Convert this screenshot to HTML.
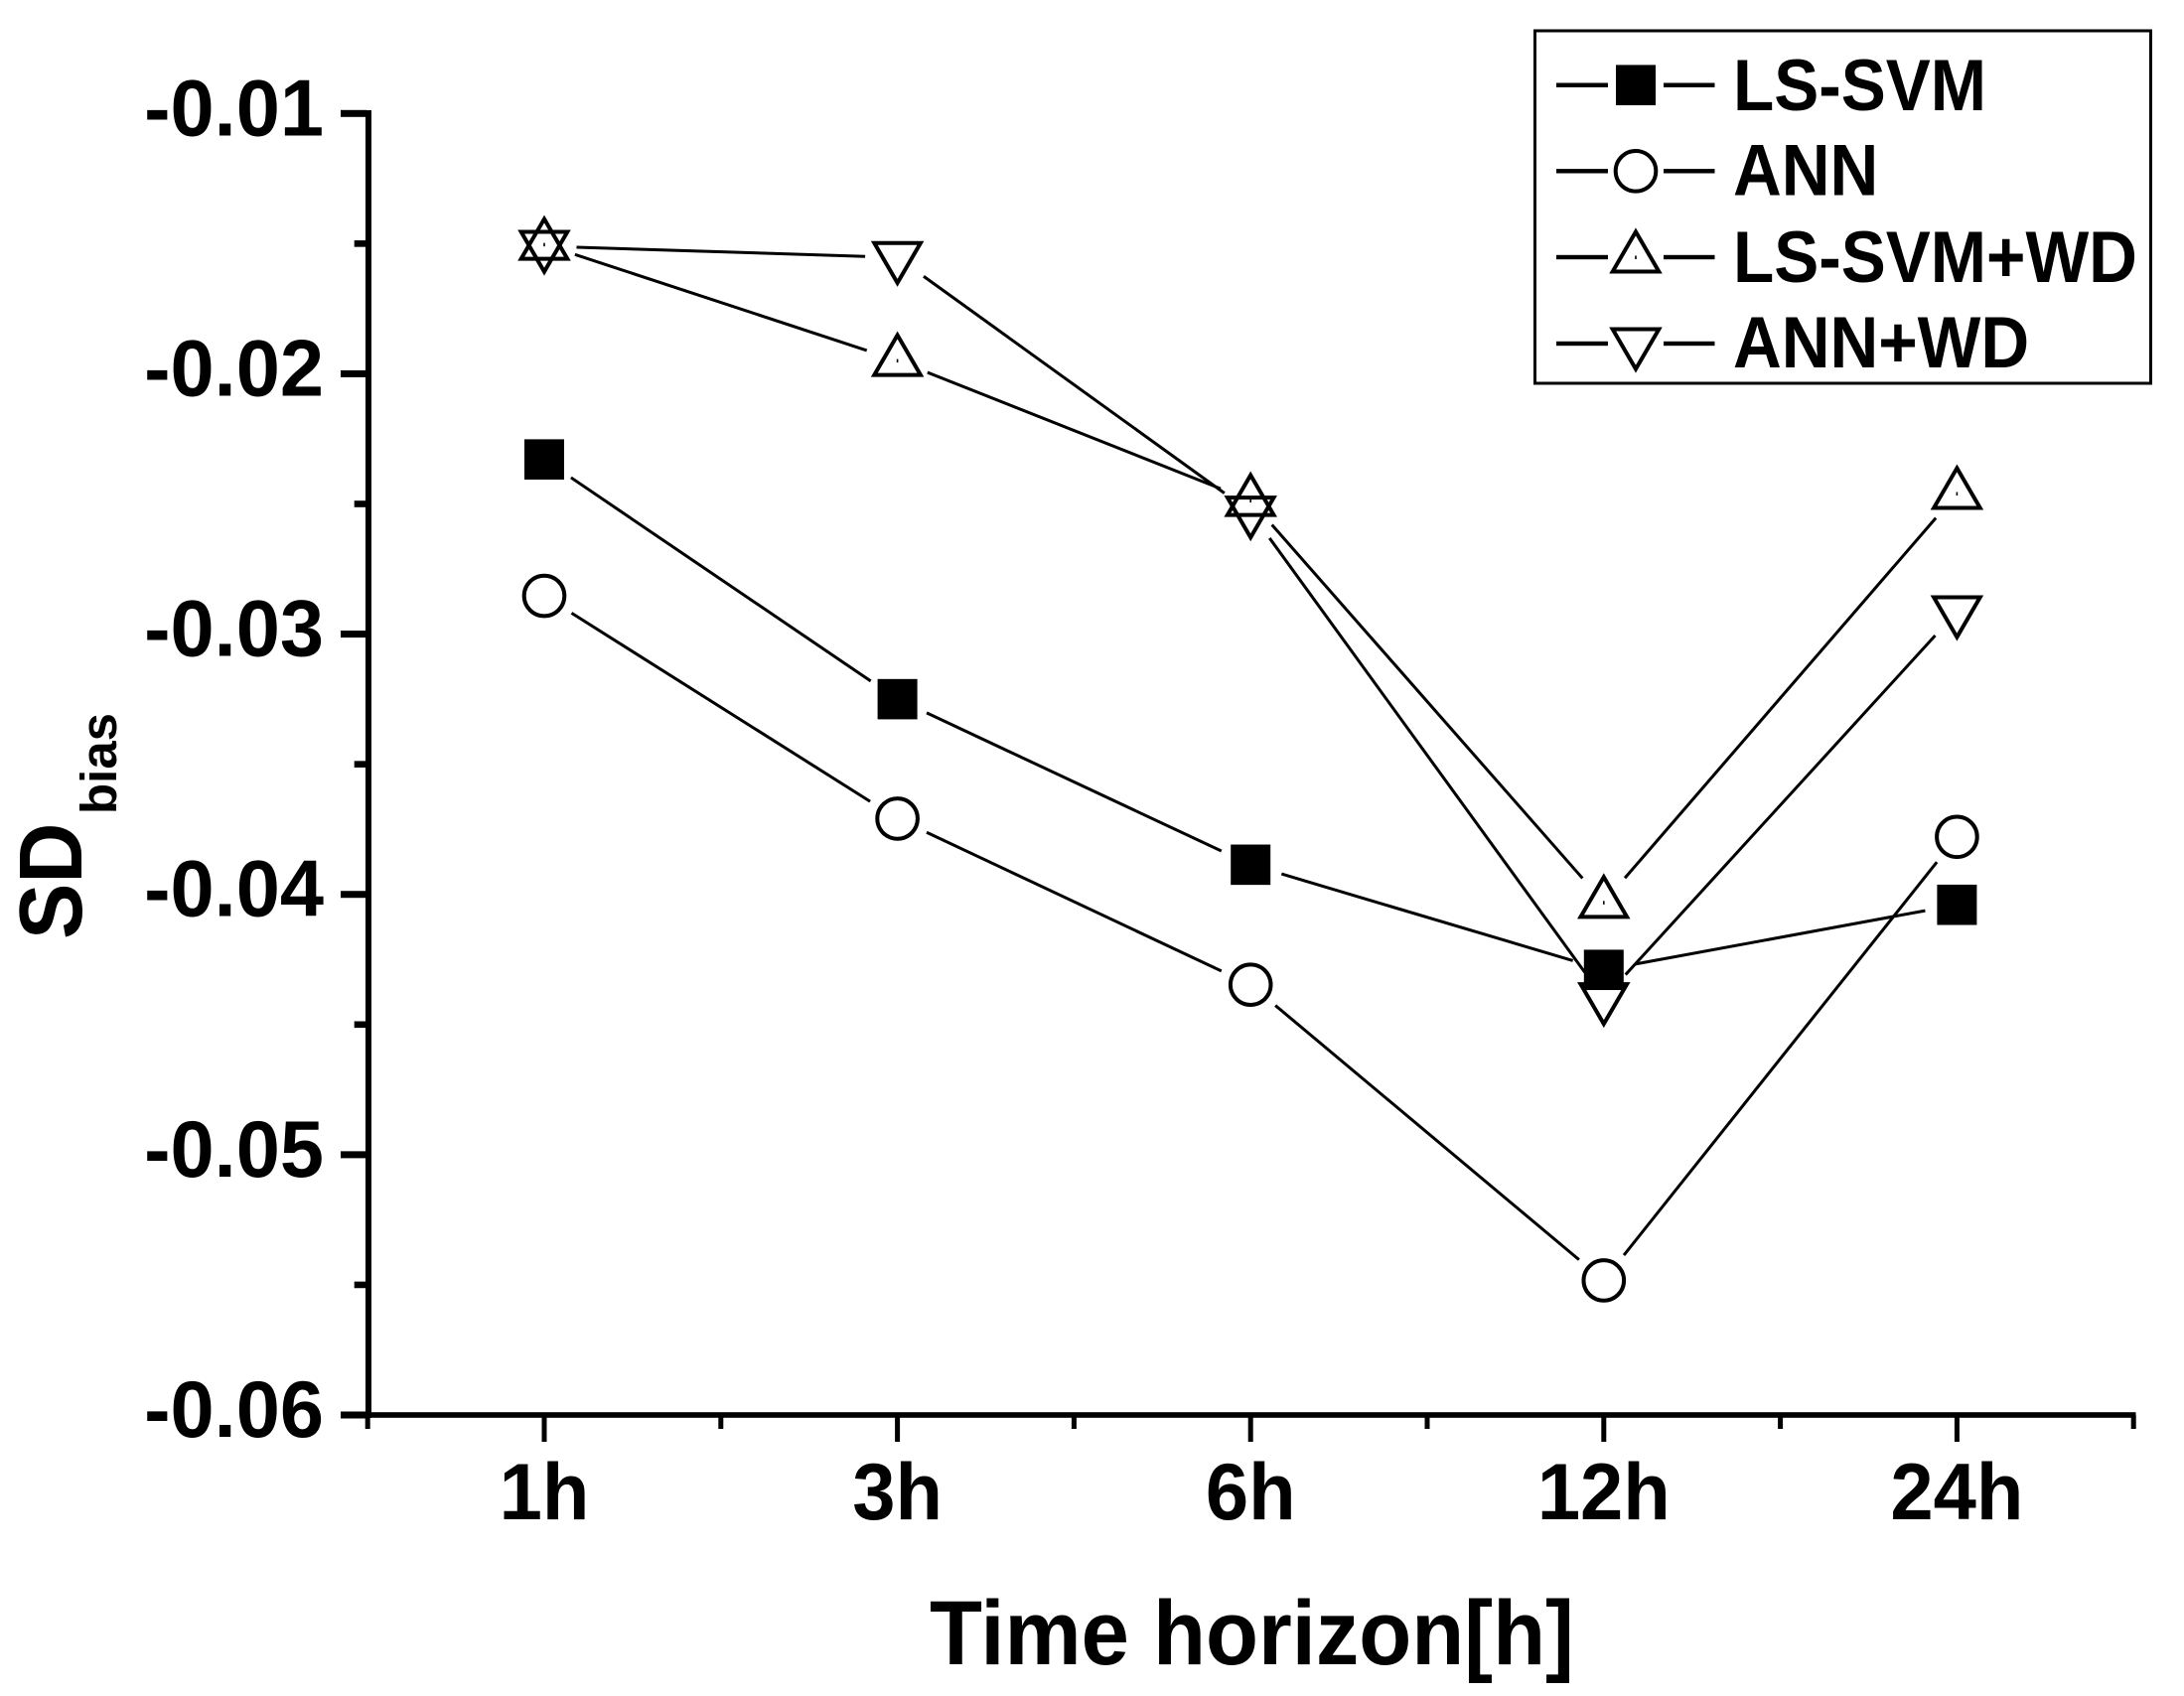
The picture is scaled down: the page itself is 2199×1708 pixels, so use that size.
<!DOCTYPE html>
<html lang="en">
<head>
<meta charset="utf-8">
<title>SD bias vs time horizon</title>
<style>
html,body{margin:0;padding:0;background:#fff;width:2199px;height:1708px;overflow:hidden}
svg{display:block}
text{font-family:"Liberation Sans",Arial,sans-serif;font-weight:bold;fill:#000}
</style>
</head>
<body>
<svg id="chart" xmlns="http://www.w3.org/2000/svg" width="2199" height="1708" viewBox="0 0 2199 1708">
<rect x="0" y="0" width="2199" height="1708" fill="#fff"/>
<g id="axes"></g>
<g id="series"></g>
<text font-size="92" transform="translate(936 1676) scale(.943 1)">Time horizon[h]</text>
<g>
<text font-size="90" transform="translate(82 946) rotate(-90) scale(.94 1)">SD</text>
<text font-size="51" transform="translate(117 820) rotate(-90)">bias</text>
</g>
<g id="legend"></g>
</svg>
<script>
const categories = ['1h', '3h', '6h', '12h', '24h'];
const yTickValues = [-0.01, -0.02, -0.03, -0.04, -0.05, -0.06];
const yTickLabels = ['-0.01', '-0.02', '-0.03', '-0.04', '-0.05', '-0.06'];
const seriesNames = ['LS-SVM', 'ANN', 'LS-SVM+WD', 'ANN+WD'];
const lsSvmValues = [-0.02329, -0.0325, -0.03886, -0.0429, -0.0404];
const annValues = [-0.02853, -0.03709, -0.04347, -0.05483, -0.03779];
const lsSvmWdValues = [-0.01503, -0.01949, -0.02487, -0.04031, -0.0246];
const annWdValues = [-0.0151, -0.01553, -0.02531, -0.044, -0.02914];

const NS = 'http://www.w3.org/2000/svg';
const axesG = document.getElementById('axes');
const seriesG = document.getElementById('series');
const legendG = document.getElementById('legend');

function yScale(v) { return 114.3 + (-0.01 - v) * 26214; }
function xScale(i) { return 548 + i * 355.6; }

function make(tag, attrs, parent) {
  const el = document.createElementNS(NS, tag);
  for (const k in attrs) el.setAttribute(k, attrs[k]);
  parent.appendChild(el);
  return el;
}

function drawMarker(kind, cx, cy, parent) {
  const g = make('g', {}, parent);
  if (kind === 'square') {
    make('rect', { x: cx - 20, y: cy - 20.3, width: 40, height: 40.6, fill: '#000' }, g);
  } else if (kind === 'circle') {
    make('ellipse', { cx: cx, cy: cy, rx: 20.3, ry: 20.3, fill: 'none', stroke: '#000', 'stroke-width': 4 }, g);
  } else if (kind === 'up') {
    make('path', { d: 'M' + cx + ' ' + (cy - 25.6) + 'L' + (cx + 23.3) + ' ' + (cy + 14.5) + 'L' + (cx - 23.3) + ' ' + (cy + 14.5) + 'Z', fill: 'none', stroke: '#000', 'stroke-width': 4, 'stroke-miterlimit': 6 }, g);
    make('rect', { x: cx - 0.8, y: cy - 1.5, width: 1.6, height: 3.5, fill: '#000' }, g);
  } else {
    make('path', { d: 'M' + cx + ' ' + (cy + 25.6) + 'L' + (cx + 23.3) + ' ' + (cy - 14.5) + 'L' + (cx - 23.3) + ' ' + (cy - 14.5) + 'Z', fill: 'none', stroke: '#000', 'stroke-width': 4, 'stroke-miterlimit': 6 }, g);
  }
  return g;
}

/* axes */
const yAxisLine = make('rect', { x: 368, y: 111, width: 6, height: 1317, fill: '#000' }, axesG);


const xAxisLine = make('rect', { x: 343, y: 1422.2, width: 1807.5, height: 5.6, fill: '#000' }, axesG);



yTickValues.forEach(function (v, i) {
  const py = yScale(v);
  const tick = make('rect', { x: 343, y: py - 3.5, width: 26, height: 7, fill: '#000' }, axesG);
  
  
  const label = make('text', { 'font-size': 81, 'text-anchor': 'end', transform: 'translate(326 ' + (py + 22) + ') scale(.98 1)' }, axesG);
  label.textContent = yTickLabels[i];
  
  
  if (i < yTickValues.length - 1) {
    const mid = yScale((v + yTickValues[i + 1]) / 2);
    const minor = make('rect', { x: 356.7, y: mid - 3.3, width: 12, height: 6.6, fill: '#000' }, axesG);
    
    
  }
});

for (let i = -0.5; i <= categories.length - 0.5; i += 1) {
  const minorX = make('rect', { x: xScale(i) - 2.5, y: 1425, width: 5, height: 14, fill: '#000' }, axesG);
  
  
}
categories.forEach(function (c, i) {
  const px = xScale(i);
  const tick = make('rect', { x: px - 2.5, y: 1425, width: 5, height: 27, fill: '#000' }, axesG);
  
  
  const label = make('text', { 'font-size': 81, 'text-anchor': 'middle', transform: 'translate(' + px + ' 1530) scale(.96 1)' }, axesG);
  label.textContent = c;
  
  
});

/* series */
const GAP = 32.5;
function drawSeries(values, kind, name) {
  const g = make('g', {}, seriesG);
  
  
  const pts = values.map(function (v, i) { return [xScale(i), yScale(v)]; });
  for (let i = 0; i < pts.length - 1; i++) {
    const a = pts[i], b = pts[i + 1];
    const dx = b[0] - a[0], dy = b[1] - a[1];
    const len = Math.sqrt(dx * dx + dy * dy);
    const ux = dx / len, uy = dy / len;
    const seg = make('line', { x1: a[0] + ux * GAP, y1: a[1] + uy * GAP, x2: b[0] - ux * GAP, y2: b[1] - uy * GAP, stroke: '#000', 'stroke-width': 3 }, g);
    
    
  }
  pts.forEach(function (p) {
    const m = drawMarker(kind, p[0], p[1], g);
    
    
  });
}
drawSeries(lsSvmValues, 'square', 'series-ls-svm');
drawSeries(annValues, 'circle', 'series-ann');
drawSeries(lsSvmWdValues, 'up', 'series-ls-svm-wd');
drawSeries(annWdValues, 'down', 'series-ann-wd');

/* legend */
const legendBox = make('rect', { x: 1545.5, y: 31, width: 620, height: 355, fill: '#fff', stroke: '#000', 'stroke-width': 3 }, legendG);


const legendKinds = ['square', 'circle', 'up', 'down'];
const legendLineY = [85.7, 172.3, 259, 346];
const legendTextY = [111, 196.7, 284, 370];
const legendTextX = [1745, 1745, 1745, 1745];
seriesNames.forEach(function (name, i) {
  const entry = make('g', {}, legendG);
  
  
  make('rect', { x: 1567, y: legendLineY[i] - 2.2, width: 52, height: 4.4, fill: '#000' }, entry);
  make('rect', { x: 1675, y: legendLineY[i] - 2.2, width: 51.5, height: 4.4, fill: '#000' }, entry);
  drawMarker(legendKinds[i], 1647, legendLineY[i], entry);
  const t = make('text', { 'font-size': 73, transform: 'translate(' + legendTextX[i] + ' ' + legendTextY[i] + ') scale(.925 1)' }, entry);
  t.textContent = name;
  
  
});
</script>
</body>
</html>
